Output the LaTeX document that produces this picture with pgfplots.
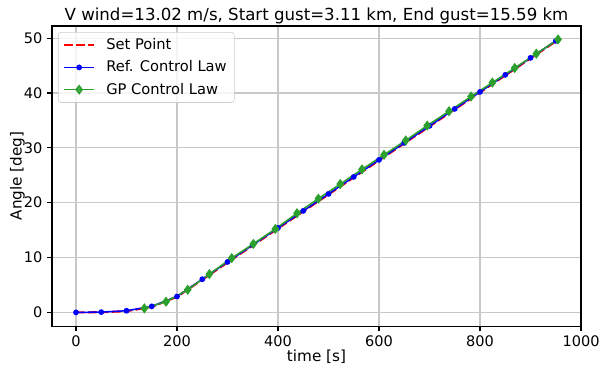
\documentclass[border=0pt]{standalone}
\usepackage{fontspec}
\setmainfont{DejaVu Sans}
\usepackage{pgfplots}
\pgfplotsset{compat=1.18}
\definecolor{mgreen}{HTML}{2CA02C}
\definecolor{gridc}{HTML}{C8C8C8}
\definecolor{legc}{HTML}{CCCCCC}
\pgfplotsset{mylegimg/.style={legend image code/.code={\draw[mark repeat=2,mark phase=2] plot coordinates {(0bp,0bp)(10.8bp,0bp)(21.6bp,0bp)};}}}
\begin{document}
\begin{tikzpicture}[x=1bp,y=1bp]
\path[use as bounding box] (0,0) rectangle (432,265);
\begin{axis}[
  at={(37.44bp,30.24bp)}, anchor=south west,
  width=380.9bp, height=216bp, scale only axis,
  xmin=-47.6, xmax=1000, ymin=-2.49, ymax=52.2,
  xtick={0,200,...,1000}, ytick={0,10,...,50},
  grid=major, grid style={gridc, line width=0.8bp},
  axis line style={line width=0.8bp},
  tick align=outside, tick pos=left, major tick length=3.5bp,
  tick style={black, line width=0.8bp},
  /pgf/number format/assume math mode=true,
  /pgf/number format/set thousands separator={},
  ticklabel style={font=\fontsize{10.5}{12}\selectfont},
  xlabel={time [s]}, ylabel={Angle [deg]},
  label style={font=\fontsize{11}{13}\selectfont},
  xlabel style={at={(axis description cs:0.5,-0.119)}, anchor=base, inner sep=0pt},
  ylabel style={at={(axis description cs:-0.051,0.5)}, anchor=south, inner sep=0pt},
  every axis title shift=0pt,
  title={V wind=13.02 m/s, Start gust=3.11 km, End gust=15.59 km},
  title style={font=\fontsize{12}{14}\selectfont, at={(axis description cs:0.5,1)}, anchor=base, yshift=4.3bp, inner sep=0pt},
  legend style={at={(0.0113,0.98)}, anchor=north west, draw=legc, rounded corners=2bp,
    fill=white, fill opacity=0.8, text opacity=1, font=\fontsize{10.6}{12}\selectfont,
    inner xsep=3.5bp, inner ysep=2.5bp, row sep=2.5bp, column sep=6bp},
  legend cell align=left,
]
\addplot[red, line width=1.5bp, dash pattern=on 6.2bp off 2.4bp, mylegimg] coordinates {
(0,0) (50,0.03) (100,0.22) (150,1.0) (200,2.85) (250,5.95) (300,9.1) (350,12.2) (400,15.3) (450,18.4) (500,21.5) (550,24.6) (600,27.7) (650,30.8) (700,33.9) (750,37.0) (800,40.1) (850,43.2) (900,46.3) (950,49.4)
};
\addlegendentry{Set Point}
\addplot[blue, line width=1.1bp, mark=*, mark size=1.5bp, mylegimg] coordinates {
(0,0) (50,0.05) (100,0.3) (150,1.1) (200,2.9) (250,6.05) (300,9.2) (350,12.3) (400,15.4) (450,18.5) (500,21.6) (550,24.7) (600,27.8) (650,30.9) (700,34.0) (750,37.1) (800,40.2) (850,43.3) (900,46.4) (950,49.5)
};
\addlegendentry{Ref. Control Law}
\addplot[mgreen, line width=1.1bp, mark=diamond*, mark size=2.8bp, mylegimg] coordinates {
(135.2,0.73) (178.2,1.95) (221.2,4.13) (264.0,6.98) (308.3,9.9) (351.1,12.49) (394.7,15.22) (437.6,18.07) (479.8,20.73) (523.2,23.4) (566.3,26.07) (609.9,28.73) (652.9,31.35) (695.4,34.05) (738.6,36.67) (782.2,39.35) (824.4,41.89) (868.7,44.55) (911.5,47.16) (954.5,49.76)
};
\addlegendentry{GP Control Law}
\end{axis}
\end{tikzpicture}
\end{document}
